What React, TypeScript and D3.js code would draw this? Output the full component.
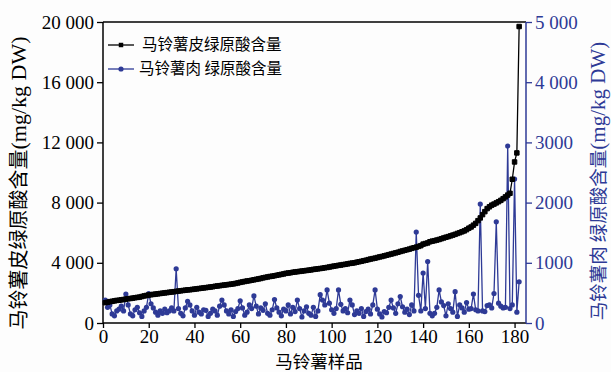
import React, { useEffect, useRef } from 'react';
import * as d3 from 'd3';

// Skin chlorogenic acid (left axis), samples sorted ascending
const skinValues: number[] = [
  1350, 1380, 1420, 1440, 1470, 1500, 1510, 1540, 1560, 1590,
  1610, 1630, 1650, 1680, 1700, 1720, 1760, 1800, 1830, 1860,
  1880, 1900, 1920, 1940, 1960, 1980, 2000, 2020, 2040, 2060,
  2080, 2100, 2120, 2140, 2160, 2180, 2200, 2210, 2230, 2250,
  2270, 2290, 2310, 2330, 2350, 2370, 2390, 2410, 2440, 2460,
  2480, 2500, 2520, 2540, 2560, 2580, 2600, 2630, 2660, 2700,
  2730, 2760, 2790, 2810, 2840, 2870, 2900, 2930, 2960, 3000,
  3030, 3060, 3090, 3110, 3140, 3170, 3200, 3230, 3260, 3300,
  3320, 3340, 3370, 3390, 3410, 3430, 3450, 3470, 3490, 3510,
  3530, 3560, 3580, 3600, 3620, 3640, 3670, 3690, 3720, 3750,
  3780, 3800, 3830, 3850, 3880, 3900, 3930, 3960, 3980, 4000,
  4040, 4070, 4100, 4140, 4170, 4210, 4250, 4280, 4310, 4350,
  4390, 4420, 4460, 4500, 4540, 4580, 4620, 4660, 4700, 4750,
  4790, 4830, 4870, 4910, 4960, 5000, 5040, 5090, 5140, 5240,
  5280, 5320, 5400, 5440, 5470, 5510, 5550, 5600, 5650, 5700,
  5740, 5790, 5840, 5890, 5950, 6000, 6060, 6120, 6200, 6300,
  6380, 6500, 6620, 6800, 6980, 7200, 7400, 7600, 7720, 7830,
  7900, 7980, 8060, 8150, 8260, 8380, 8500, 8620,
  9550, 10700, 11300, 19700,
];

// Flesh chlorogenic acid (right axis)
const fleshValues: number[] = [
  380, 260, 300, 150, 120, 200, 230, 280, 200, 480,
  300, 150, 120, 220, 260, 170, 110, 200, 260, 490,
  320, 250, 180, 130, 200, 160, 230, 170, 200, 250,
  200, 900, 240, 160, 120, 250, 360, 300, 200, 130,
  260, 180, 150, 220, 210, 110, 160, 230, 200, 130,
  280, 380, 300, 200, 150, 220, 110, 190, 240, 370,
  250, 130, 180, 300, 240, 450, 280, 150, 250, 210,
  320, 160, 130, 220, 390, 250, 180, 120, 230, 200,
  300, 150, 260, 190, 380, 240, 100, 200, 270, 160,
  130, 260, 110, 200, 470, 380, 300, 550, 330, 220,
  160, 240, 550, 310, 200, 240, 170, 380, 300, 140,
  200, 160, 240, 110, 190, 230, 150, 300, 550, 230,
  150, 100, 190, 170, 260, 380, 250, 160, 320, 440,
  270, 180, 230, 140, 300, 200, 1510, 460, 200, 830,
  240, 1020, 160, 120, 160, 260, 550, 350, 290, 120,
  320, 240, 180, 520, 110, 300, 250, 180, 340, 230,
  240, 480, 220, 200, 1975, 200, 190, 290, 300, 250,
  490, 1680, 330, 280, 250, 260, 2940, 240, 300, 2390,
  180, 685,
];

const xTicks = [0, 20, 40, 60, 80, 100, 120, 140, 160, 180];
const leftTicks = [0, 4000, 8000, 12000, 16000, 20000];
const leftTickLabels = ['0', '4 000', '8 000', '12 000', '16 000', '20 000'];
const rightTicks = [0, 1000, 2000, 3000, 4000, 5000];
const rightTickLabels = ['0', '1000', '2000', '3000', '4 000', '5 000'];

const skinName = '马铃薯皮绿原酸含量';
const fleshName = '马铃薯肉 绿原酸含量';

const BLUE = '#2e3a96';
const SERIF = '"Liberation Serif", "Times New Roman", serif';
const CJK = '"Noto Sans CJK SC", sans-serif';

const App: React.FC = () => {
  const svgRef = useRef<SVGSVGElement>(null);

  useEffect(() => {
    if (!svgRef.current) return;
    const svg = d3.select(svgRef.current);
    svg.selectAll('*').remove();

    const x = d3.scaleLinear().domain([0, 185]).range([103, 526]);
    const yL = d3.scaleLinear().domain([0, 20000]).range([323, 22]);
    const yR = d3.scaleLinear().domain([0, 5000]).range([323, 22]);

    svg.append('rect').attr('width', 611).attr('height', 372).attr('fill', '#fdfdfd');

    // top frame line
    svg.append('line')
      .attr('x1', 103).attr('x2', 526).attr('y1', 22).attr('y2', 22)
      .attr('stroke', '#000').attr('stroke-width', 1.5);

    // Axes
    const xAxis = svg.append('g')
      .attr('transform', 'translate(0,323)')
      .call(d3.axisBottom(x).tickValues(xTicks).tickSize(5).tickPadding(2).tickFormat(d => `${d}`));
    xAxis.select('.domain').attr('stroke-width', 1.5).attr('d', 'M103,0H526');
    xAxis.selectAll('.tick line').attr('stroke-width', 1.3);
    xAxis.selectAll('text').style('font-family', SERIF).style('font-size', '19px').attr('fill', '#000');

    const leftAxis = svg.append('g')
      .attr('transform', 'translate(103,0)')
      .call(d3.axisLeft(yL).tickValues(leftTicks).tickSize(6).tickPadding(3)
        .tickFormat((d, i) => leftTickLabels[i]));
    leftAxis.select('.domain').attr('stroke-width', 1.5).attr('d', 'M0,323V22');
    leftAxis.selectAll('.tick line').attr('stroke-width', 1.3);
    leftAxis.selectAll('text').style('font-family', SERIF).style('font-size', '19px').attr('fill', '#000');

    const rightAxis = svg.append('g')
      .attr('transform', 'translate(526,0)')
      .call(d3.axisRight(yR).tickValues(rightTicks).tickSize(6).tickPadding(3)
        .tickFormat((d, i) => rightTickLabels[i]));
    rightAxis.select('.domain').attr('stroke', BLUE).attr('stroke-width', 1.5).attr('d', 'M0,323V22');
    rightAxis.selectAll('.tick line').attr('stroke', BLUE).attr('stroke-width', 1.3);
    rightAxis.selectAll('text').style('font-family', SERIF).style('font-size', '19px').attr('fill', BLUE);

    // Flesh series (blue)
    const fleshLine = d3.line<number>().x((d, i) => x(i + 1)).y(d => yR(d));
    svg.append('path')
      .datum(fleshValues)
      .attr('d', fleshLine)
      .attr('fill', 'none')
      .attr('stroke', BLUE)
      .attr('stroke-width', 1.3);
    svg.append('g').selectAll('circle')
      .data(fleshValues)
      .enter()
      .append('circle')
      .attr('cx', (d, i) => x(i + 1))
      .attr('cy', d => yR(d))
      .attr('r', 2.6)
      .attr('fill', BLUE);

    // Skin series (black)
    const skinLine = d3.line<number>().x((d, i) => x(i + 1)).y(d => yL(d));
    svg.append('path')
      .datum(skinValues)
      .attr('d', skinLine)
      .attr('fill', 'none')
      .attr('stroke', '#000')
      .attr('stroke-width', 1.3);
    const sq = d3.symbol().type(d3.symbolSquare).size(20);
    svg.append('g').selectAll('path')
      .data(skinValues)
      .enter()
      .append('path')
      .attr('d', sq)
      .attr('transform', (d, i) => `translate(${x(i + 1)},${yL(d)})`)
      .attr('fill', '#000')
      .attr('stroke', '#000')
      .attr('stroke-width', 1);

    // Legend
    const legend = svg.append('g');
    legend.append('line').attr('x1', 108).attr('x2', 134).attr('y1', 45).attr('y2', 45)
      .attr('stroke', '#000').attr('stroke-width', 1.3);
    legend.append('path').attr('d', sq).attr('transform', 'translate(121,45)').attr('fill', '#000');
    legend.append('text').attr('x', 142).attr('y', 45).attr('dy', '0.35em')
      .style('font-family', CJK).style('font-size', '15.5px').attr('fill', '#000')
      .text(skinName);
    legend.append('line').attr('x1', 108).attr('x2', 134).attr('y1', 69).attr('y2', 69)
      .attr('stroke', BLUE).attr('stroke-width', 1.3);
    legend.append('circle').attr('cx', 121).attr('cy', 69).attr('r', 2.6).attr('fill', BLUE);
    legend.append('text').attr('x', 139).attr('y', 69).attr('dy', '0.35em')
      .style('font-family', CJK).style('font-size', '15.5px').attr('fill', '#000')
      .text(fleshName);

    // Axis titles
    const leftTitle = svg.append('text')
      .attr('transform', 'translate(20,183) rotate(-90)')
      .attr('text-anchor', 'middle')
      .attr('dy', '0.35em')
      .attr('fill', '#000');
    leftTitle.append('tspan').style('font-family', CJK).style('font-size', '20px').text(skinName);
    leftTitle.append('tspan').style('font-family', SERIF).style('font-size', '22px').text('(mg/kg DW)');

    const rightTitle = svg.append('text')
      .attr('transform', 'translate(599,181) rotate(-90)')
      .attr('text-anchor', 'middle')
      .attr('dy', '0.35em')
      .attr('fill', BLUE);
    rightTitle.append('tspan').style('font-family', CJK).style('font-size', '18.5px').text(fleshName);
    rightTitle.append('tspan').style('font-family', SERIF).style('font-size', '21px').text('(mg/kg DW)');

    svg.append('text')
      .attr('x', 319).attr('y', 362).attr('dy', '0.35em')
      .attr('text-anchor', 'middle')
      .style('font-family', CJK).style('font-size', '17.5px').attr('fill', '#000')
      .text('马铃薯样品');
  }, []);

  return (
    <svg
      ref={svgRef}
      width={611}
      height={372}
      style={{ position: 'absolute', left: 0, top: 0 }}
    />
  );
};

export default App;
